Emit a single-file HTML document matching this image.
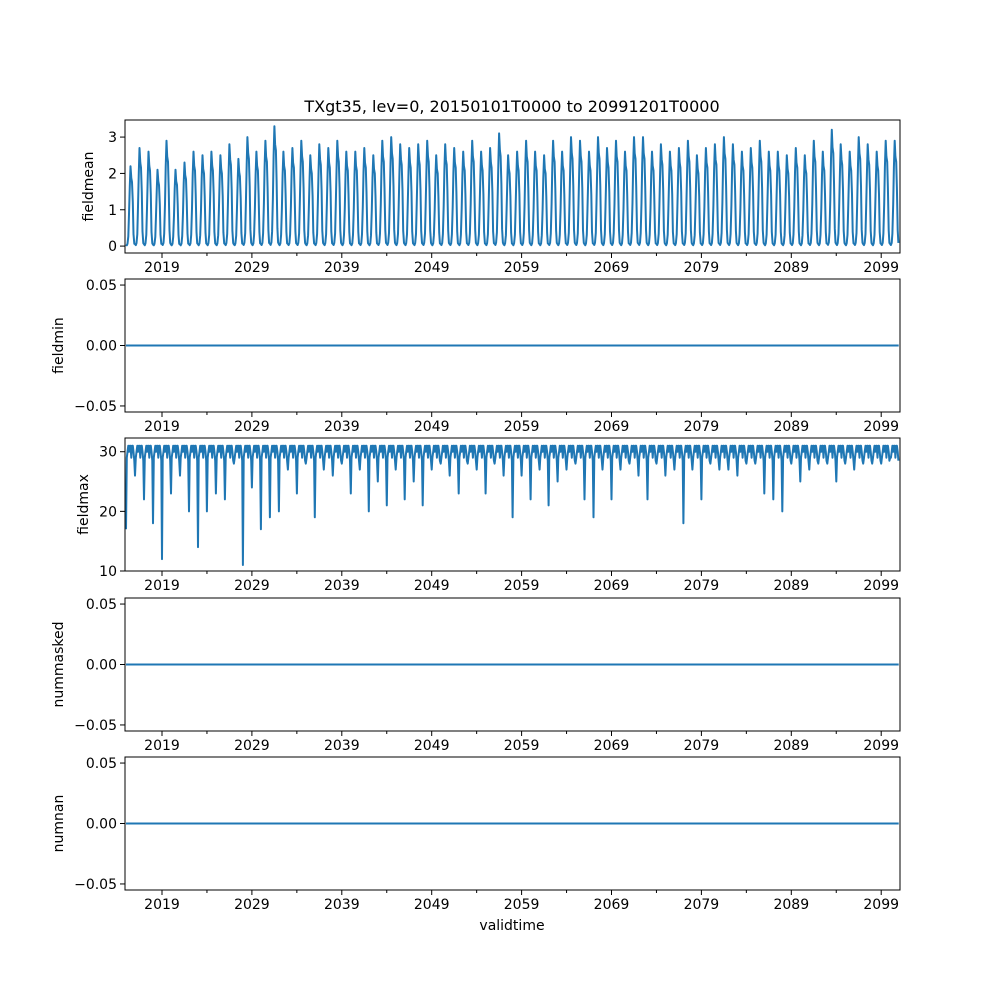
<!DOCTYPE html>
<html><head><meta charset="utf-8"><style>
html,body{margin:0;padding:0;background:#fff}
svg{display:block;font-family:"DejaVu Sans","Liberation Sans",sans-serif}
</style></head><body>
<svg id="fig" width="1000" height="1000" xmlns="http://www.w3.org/2000/svg">
<rect width="1000" height="1000" fill="#fff"/>
<text x="512" y="112" font-size="16" text-anchor="middle">TXgt35, lev=0, 20150101T0000 to 20991201T0000</text>
<text x="512" y="930" font-size="14" text-anchor="middle">validtime</text>
</svg>
<script>
const meanPeaks=[2.2,2.7,2.6,2.1,2.9,2.1,2.3,2.6,2.5,2.6,2.5,2.8,2.4,3.0,2.6,2.9,3.3,2.6,2.7,2.9,2.5,2.8,2.7,2.9,2.6,2.6,2.7,2.5,2.9,3.0,2.8,2.7,2.8,2.9,2.5,2.8,2.7,2.6,2.9,2.6,2.7,3.1,2.5,2.6,2.9,2.6,2.5,2.9,2.6,3.0,2.9,2.6,3.0,2.7,2.9,2.6,3.0,3.0,2.6,2.8,2.6,2.7,2.9,2.5,2.7,2.8,3.0,2.8,2.6,2.7,2.9,2.6,2.6,2.5,2.7,2.5,2.9,2.6,3.2,2.8,2.6,3.0,2.8,2.6,2.9,2.9];
const seasonShape=[0.02,0.01,0.03,0.12,0.4,0.75,1,0.85,0.8,0.55,0.15,0.03];
const maxDips=[17,26,22,18,12,23,26,20,14,20,23,22,28,11,24,17,19,20,27,23,28,19,27,26,28,23,27,20,25,21,27,22,25,21,27,28,26,23,28,27,23,28,26,19,26,22,27,21,25,27,28,22,19,27,22,27,28,26,22,28,26,27,18,27,22,28,27,27,26,28,28,23,22,20,28,25,27,28,28,25,28,27,28,28,28,29];
const maxMonthly=[null,29,30,31,30,31,31,29,31,31,30,28.5];
const startYear=2015;
const xTickYears=[2019,2029,2039,2049,2059,2069,2079,2089,2099];
const minorYears=[2024,2034,2044,2054,2064,2074,2084,2094];
const panels=[
 {name:'fieldmean',top:120,bot:253,ymin:-0.19,ymax:3.47,ticks:[0,1,2,3],labels:['0','1','2','3'],lx:93},
 {name:'fieldmin',top:279,bot:412,ymin:-0.055,ymax:0.055,ticks:[-0.05,0,0.05],labels:['−0.05','0.00','0.05'],lx:63},
 {name:'fieldmax',top:438,bot:571,ymin:10,ymax:32.3,ticks:[10,20,30],labels:['10','20','30'],lx:88},
 {name:'nummasked',top:598,bot:731,ymin:-0.055,ymax:0.055,ticks:[-0.05,0,0.05],labels:['−0.05','0.00','0.05'],lx:63},
 {name:'numnan',top:757,bot:890,ymin:-0.055,ymax:0.055,ticks:[-0.05,0,0.05],labels:['−0.05','0.00','0.05'],lx:63}
];
const L=125,R=900,NS='http://www.w3.org/2000/svg';
const xs=t=>162+(t-2019)*8.99;
const svg=document.getElementById('fig');
function mk(tag,attrs,parent){const e=document.createElementNS(NS,tag);for(const k in attrs)e.setAttribute(k,attrs[k]);(parent||svg).appendChild(e);return e;}
panels.forEach(p=>{
 const g=mk('g',{});
 
 
 const ys=v=>p.bot-(v-p.ymin)/(p.ymax-p.ymin)*(p.bot-p.top);
 let vals=[];
 if(p.name==='fieldmean'){meanPeaks.forEach((pk,i)=>seasonShape.forEach((s,m)=>vals.push([startYear+i+m/12,pk*s])));}
 else if(p.name==='fieldmax'){maxDips.forEach((d,i)=>maxMonthly.forEach((v,m)=>vals.push([startYear+i+m/12,v===null?d:v])));}
 else{vals=[[startYear,0],[startYear+85.95,0]];}
 const d=vals.map((q,i)=>(i?'L':'M')+Math.min(Math.max(xs(q[0]),L),R).toFixed(1)+' '+ys(q[1]).toFixed(1)).join('');
 const line=mk('path',{d:d,fill:'none',stroke:'#1f77b4','stroke-width':2,'stroke-linejoin':'round'},g);
 
 
 const fr=mk('rect',{x:L,y:p.top,width:R-L,height:p.bot-p.top,fill:'none',stroke:'#000','stroke-width':1},g);
 
 
 xTickYears.forEach(yr=>{const x=xs(yr);mk('line',{x1:x,x2:x,y1:p.bot,y2:p.bot+5,stroke:'#000'},g);
  const t=mk('text',{x:x,y:p.bot+19,'font-size':14,'text-anchor':'middle'},g);t.textContent=yr;
  
  });
 minorYears.forEach(yr=>{const x=xs(yr);mk('line',{x1:x,x2:x,y1:p.bot,y2:p.bot+3,stroke:'#000'},g);});
 p.ticks.forEach((v,i)=>{const y=ys(v);mk('line',{x1:L-5,x2:L,y1:y,y2:y,stroke:'#000'},g);
  const t=mk('text',{x:L-8,y:y+5,'font-size':14,'text-anchor':'end'},g);t.textContent=p.labels[i];
  
  });
 const yl=mk('text',{x:p.lx,y:(p.top+p.bot)/2,'font-size':14,'text-anchor':'middle',transform:`rotate(-90 ${p.lx} ${(p.top+p.bot)/2})`},g);
 yl.textContent=p.name;
 
 
});
</script>
</body></html>
